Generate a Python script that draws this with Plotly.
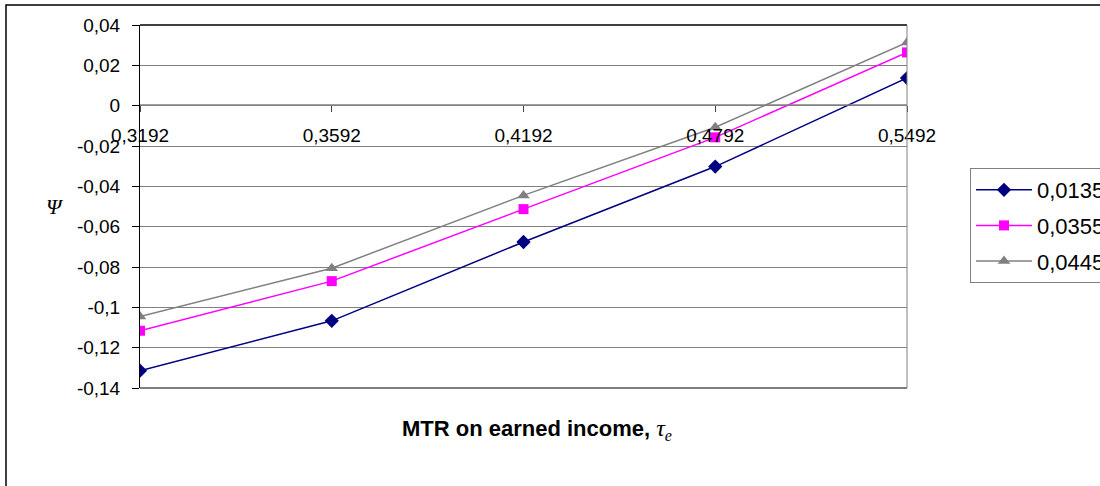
import plotly.graph_objects as go

# Marginal tax rate on earned income (category axis)
categories = ["0,3192", "0,3592", "0,4192", "0,4792", "0,5492"]

# Psi for each parameter value
series_names = ["0,0135", "0,0355", "0,0445"]
psi_0135 = [-0.1314, -0.1067, -0.0676, -0.0302, 0.0137]
psi_0355 = [-0.1116, -0.0870, -0.0513, -0.0157, 0.0264]
psi_0445 = [-0.1046, -0.0806, -0.0445, -0.0107, 0.0313]

y_tickvals = [0.04, 0.02, 0, -0.02, -0.04, -0.06, -0.08, -0.1, -0.12, -0.14]
y_ticktext = ["0,04", "0,02", "0", "-0,02", "-0,04", "-0,06", "-0,08", "-0,1", "-0,12", "-0,14"]

W, H = 1100, 486
L, R, T, B = 140, 193, 25, 98
pw, ph = W - L - R, H - T - B


def px_x(x):
    return (x - L) / pw


def px_y(y):
    return (H - B - y) / ph


styles = [
    dict(color="#000080", symbol="diamond", size=11),
    dict(color="#FF00FF", symbol="square", size=10),
    dict(color="#808080", symbol="triangle-up", size=11),
]

fig = go.Figure()
for name, vals, st in zip(series_names, [psi_0135, psi_0355, psi_0445], styles):
    fig.add_trace(go.Scatter(
        x=categories, y=vals, name=name, mode="lines+markers",
        line=dict(color=st["color"], width=1.5),
        marker=dict(symbol=st["symbol"], size=st["size"], color=st["color"],
                    line=dict(width=0)),
        legendgroup=name,
    ))

font = "Liberation Sans, Arial, sans-serif"
serif = "Liberation Serif, Times New Roman, serif"

fig.update_layout(
    width=W, height=H,
    margin=dict(l=L, r=R, t=T, b=B, autoexpand=False),
    paper_bgcolor="white", plot_bgcolor="white",
    font=dict(family=font, size=19, color="black"),
    showlegend=True,
    legend=dict(
        x=px_x(970), y=px_y(168), xanchor="left", yanchor="top",
        bordercolor="#808080", borderwidth=1, bgcolor="white",
        font=dict(family=font, size=22, color="black"),
        tracegroupgap=4, itemwidth=56,
    ),
    xaxis=dict(
        type="category", range=[0, 4], anchor="free",
        position=px_y(105), showgrid=False, zeroline=False,
        showline=False, ticks="outside", ticklen=6, tickcolor="#404040",
        tickfont=dict(family=font, size=19, color="black"),
        ticklabelstandoff=7,
    ),
    yaxis=dict(
        range=[-0.14, 0.04], tickvals=y_tickvals, ticktext=y_ticktext,
        showgrid=True, gridcolor="#808080", gridwidth=1, zeroline=False,
        showline=True, linecolor="black", linewidth=1,
        ticks="outside", ticklen=7, tickcolor="black",
        tickfont=dict(family=font, size=19, color="black"),
        ticklabelstandoff=8,
    ),
)

# Plot-area frame and outer chart border
fig.add_shape(type="line", xref="paper", yref="paper", x0=0, x1=1, y0=1, y1=1,
              line=dict(color="black", width=1.5))
fig.add_shape(type="line", xref="paper", yref="paper", x0=0, x1=1, y0=0, y1=0,
              line=dict(color="black", width=1))
fig.add_shape(type="line", xref="paper", yref="paper", x0=1, x1=1, y0=0, y1=1,
              line=dict(color="#808080", width=1))
fig.add_shape(type="line", xref="paper", yref="paper", x0=0, x1=1, y0=px_y(105), y1=px_y(105),
              line=dict(color="#808080", width=1.5))
fig.add_shape(type="rect", xref="paper", yref="paper",
              x0=px_x(6), x1=px_x(1110), y0=px_y(5), y1=px_y(500),
              line=dict(color="black", width=1.5))

# Axis titles
fig.add_annotation(
    xref="paper", yref="paper", x=px_x(44), y=px_y(207), showarrow=False,
    text="<i>Ψ</i>", font=dict(family=serif, size=22, color="black"),
)
fig.add_annotation(
    xref="paper", yref="paper", x=px_x(537), y=px_y(446), showarrow=False,
    text="<b>MTR on earned income, </b><span style='font-family:Liberation Serif;font-size:24px'><i>τ</i></span>"
         "<sub><span style='font-family:Liberation Serif;font-size:16px'><i>e</i></span></sub>",
    font=dict(family=font, size=22, color="black"),
)

fig.write_html("out.html")
